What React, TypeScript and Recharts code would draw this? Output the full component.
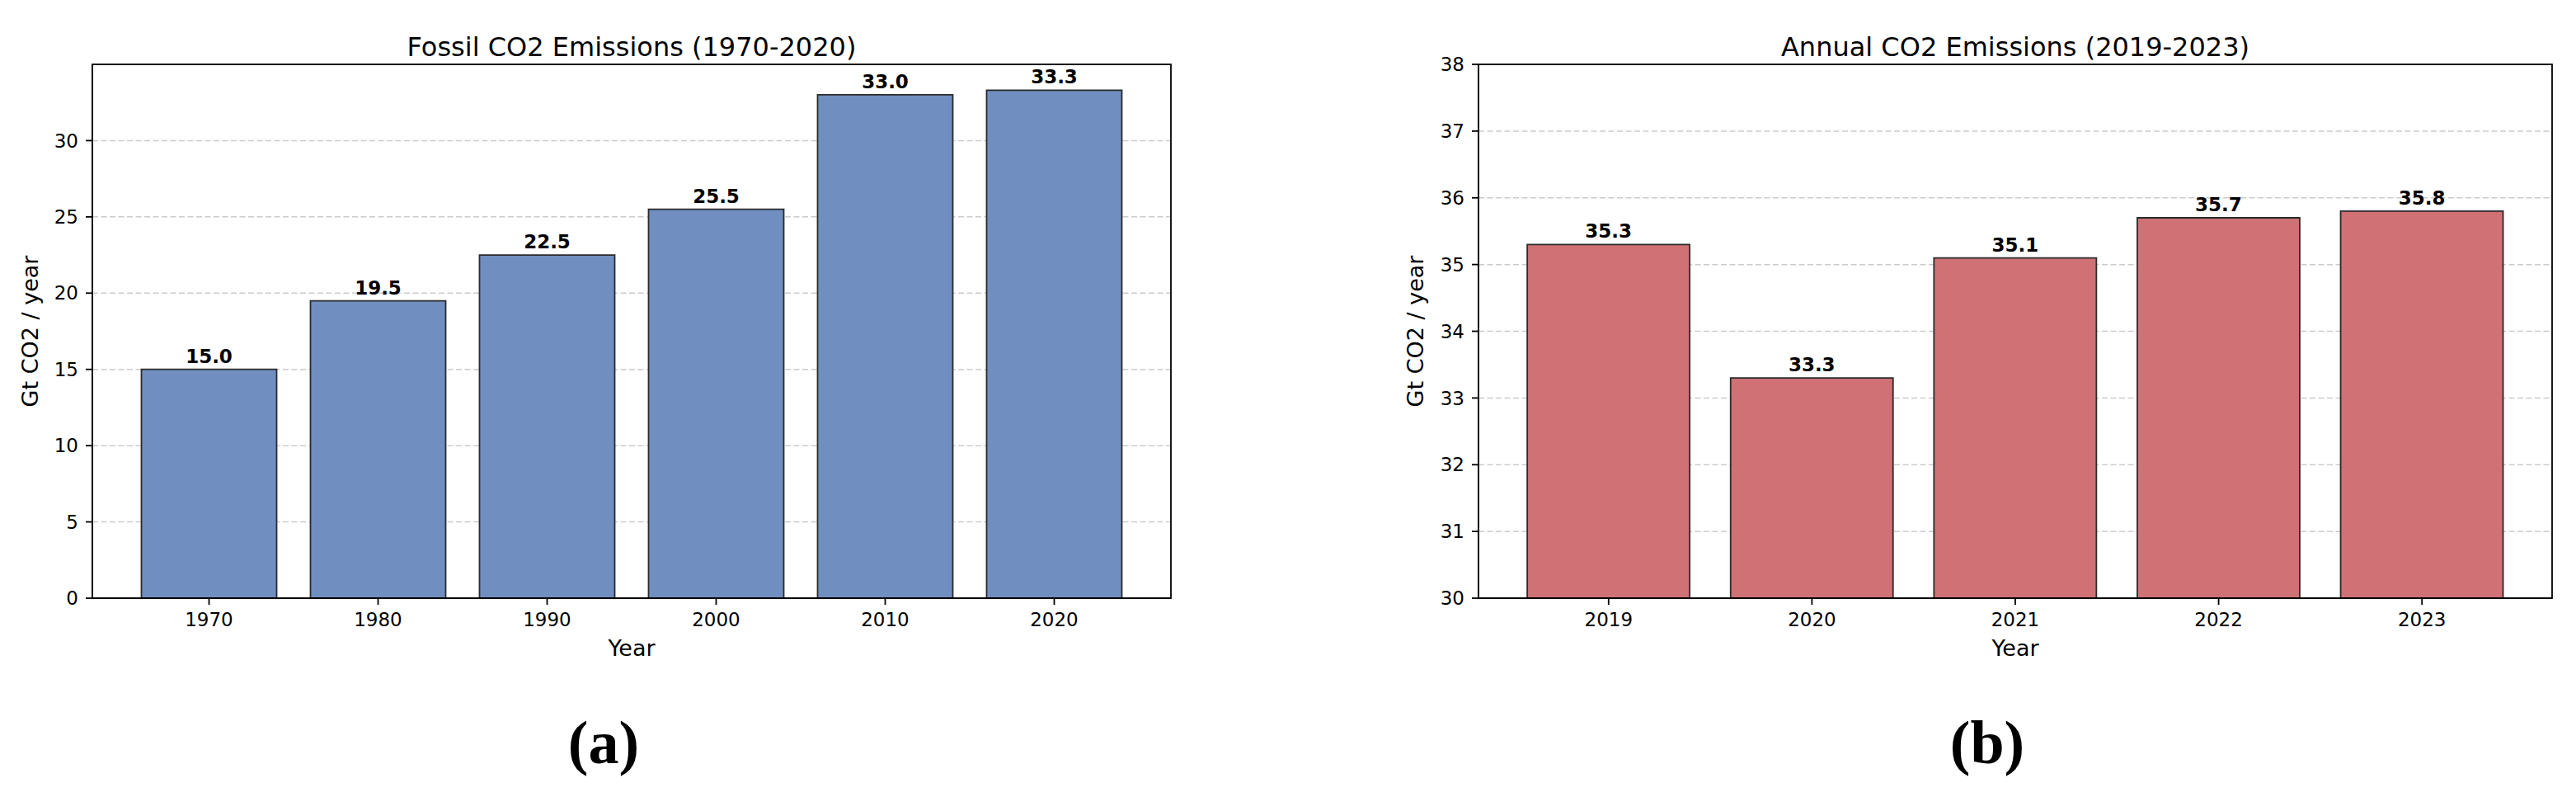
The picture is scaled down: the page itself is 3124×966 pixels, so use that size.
import React from 'react';
import { BarChart, Bar, XAxis, YAxis, CartesianGrid, LabelList, ReferenceArea } from 'recharts';

// ---- data ----
const fossilYears = ['1970', '1980', '1990', '2000', '2010', '2020'];
const fossilValues = [15.0, 19.5, 22.5, 25.5, 33.0, 33.3];
const fossilTicks = [0, 5, 10, 15, 20, 25, 30];
const fossilDomain: [number, number] = [0, 35];

const annualYears = ['2019', '2020', '2021', '2022', '2023'];
const annualValues = [35.3, 33.3, 35.1, 35.7, 35.8];
const annualTicks = [30, 31, 32, 33, 34, 35, 36, 37, 38];
const annualDomain: [number, number] = [30, 38];

const FONT = "'DejaVu Sans', sans-serif";
const SERIF = "'Liberation Serif', 'Times New Roman', serif";
const LINE = { stroke: '#000', strokeWidth: 1.8 };

const CH_W = 1562;
const CH_H = 966;
const TOP = 78;
const X_H = 100;
const BOTTOM = 141;
const PLOT_H = CH_H - TOP - BOTTOM - X_H;

type PanelProps = {
  years: string[];
  values: number[];
  ticks: number[];
  domain: [number, number];
  color: string;
  title: string;
  tag: string;
  yAxisWidth: number;
  marginRight: number;
  pad: number;
  yLabelX: number;
  left: number;
};

const Panel = (p: PanelProps) => {
  const data = p.years.map((year, i) => ({ year, value: p.values[i] }));

  const xLabel = (props: any) => {
    const vb = props.viewBox || props;
    const cx = vb.x + vb.width / 2;
    return (
      <g>
        <text x={cx} y={vb.y - PLOT_H - 10} textAnchor="middle" fontFamily={FONT} fontSize={32} fill="#000">
          {p.title}
        </text>
        <text x={cx} y={vb.y + 70} textAnchor="middle" fontFamily={FONT} fontSize={27} fill="#000">
          Year
        </text>
        <text x={cx - 34} y={vb.y + 200} textAnchor="middle" fontFamily={SERIF} fontWeight="bold" fontSize={74} fill="#000">
          {p.tag}
        </text>
      </g>
    );
  };

  const yLabel = (props: any) => {
    const vb = props.viewBox || props;
    const x = vb.x + p.yLabelX;
    const y = vb.y + vb.height / 2;
    return (
      <text x={x} y={y} transform={`rotate(-90 ${x} ${y})`} textAnchor="middle" fontFamily={FONT} fontSize={27} fill="#000">
        Gt CO2 / year
      </text>
    );
  };

  const frame = (s: any) => (
    <rect
      x={s.x - p.pad}
      y={s.y}
      width={s.width + 2 * p.pad}
      height={s.height}
      fill="none"
      stroke="#000"
      strokeWidth={1.8}
    />
  );

  return (
    <div style={{ position: 'absolute', left: p.left, top: 0, width: CH_W, height: CH_H }}>
      <BarChart
        width={CH_W}
        height={CH_H}
        data={data}
        margin={{ top: TOP, right: p.marginRight, bottom: BOTTOM, left: 0 }}
        barCategoryGap="10%"
      >
        <CartesianGrid vertical={false} stroke="#cccccc" strokeDasharray="7 3.5" strokeWidth={1.5} />
        <XAxis
          dataKey="year"
          height={X_H}
          padding={{ left: p.pad, right: p.pad }}
          interval={0}
          tickSize={8}
          tickMargin={10}
          axisLine={LINE}
          tickLine={LINE}
          tick={{ fill: '#000', fontSize: 23, fontFamily: FONT }}
          label={xLabel}
        />
        <YAxis
          width={p.yAxisWidth}
          domain={p.domain}
          ticks={p.ticks}
          interval={0}
          allowDataOverflow
          tickSize={8}
          tickMargin={9}
          axisLine={LINE}
          tickLine={LINE}
          tick={{ fill: '#000', fontSize: 23, fontFamily: FONT }}
          label={yLabel}
        />
        <Bar dataKey="value" fill={p.color} stroke="#2b2b2b" strokeWidth={1.8} isAnimationActive={false}>
          <LabelList
            dataKey="value"
            position="top"
            offset={8}
            formatter={(v: any) => Number(v).toFixed(1)}
            fill="#000"
            fontSize={23}
            fontWeight="bold"
            fontFamily={FONT}
          />
        </Bar>
        <ReferenceArea
          y1={p.domain[0]}
          y2={p.domain[1]}
          ifOverflow="visible"
          shape={frame}
        />
      </BarChart>
    </div>
  );
};

export default function App() {
  return (
    <div style={{ position: 'absolute', left: 0, top: 0, width: 3124, height: 966, background: '#fff', overflow: 'hidden' }}>
      <Panel
        years={fossilYears}
        values={fossilValues}
        ticks={fossilTicks}
        domain={fossilDomain}
        color="#708ec0"
        title="Fossil CO2 Emissions (1970-2020)"
        tag="(a)"
        yAxisWidth={112}
        marginRight={142}
        pad={39}
        yLabelX={46}
        left={0}
      />
      <Panel
        years={annualYears}
        values={annualValues}
        ticks={annualTicks}
        domain={annualDomain}
        color="#cf7175"
        title="Annual CO2 Emissions (2019-2023)"
        tag="(b)"
        yAxisWidth={231}
        marginRight={29}
        pad={34.5}
        yLabelX={164}
        left={1562}
      />
    </div>
  );
}
